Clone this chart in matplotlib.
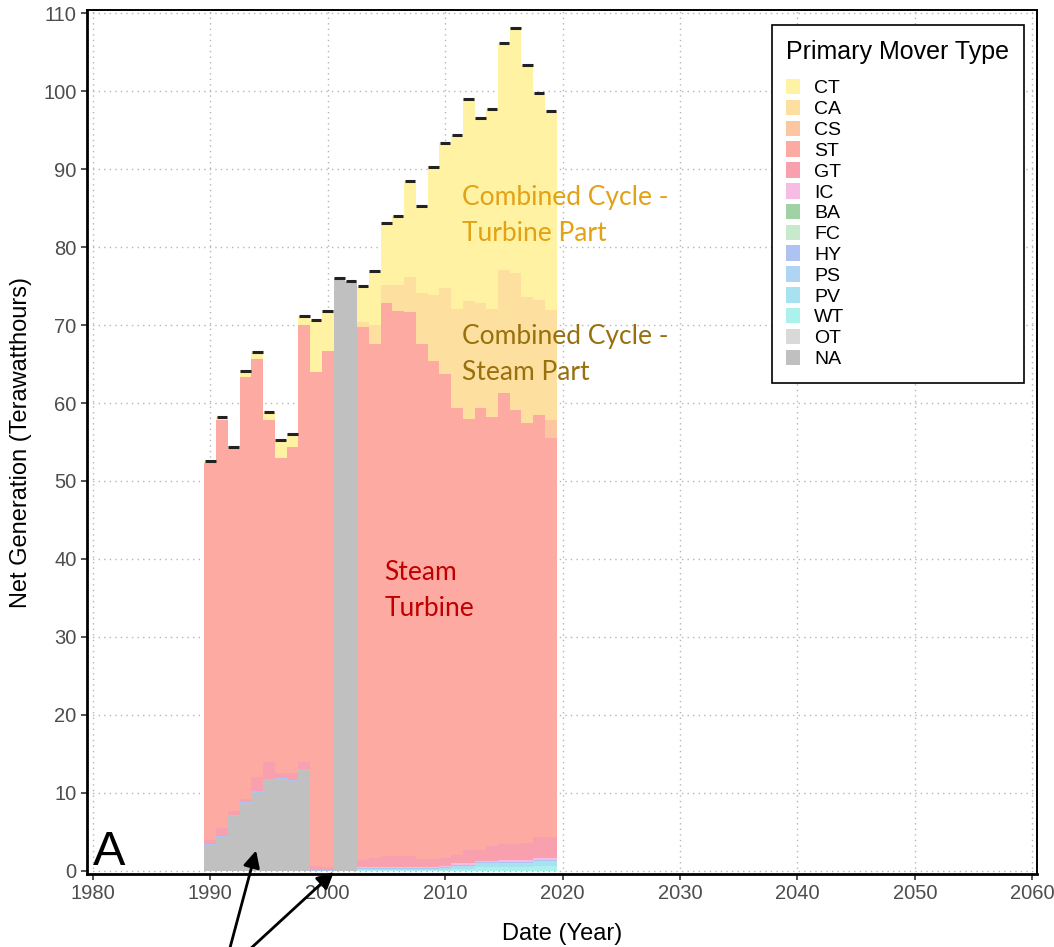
import numpy as np
import matplotlib.pyplot as plt
from matplotlib.patches import Patch

years = np.arange(1990, 2020)

# net generation by primary mover (TWh), 1990..2019
ct = [0.3, 0.4, 0.3, 0.7, 0.8, 1.1, 2.4, 1.7, 1.2, 6.6, 5.1, 0, 0, 4.6, 6.9,
      8.0, 8.9, 12.3, 11.2, 16.4, 18.7, 22.4, 25.9, 23.7, 25.7, 29.1, 31.4, 29.7, 26.6, 25.6]
ca = [0] * 13 + [0.7, 2.4, 2.3, 3.3, 4.5, 6.5, 8.5, 11.0, 12.6, 15.1, 13.4, 13.8,
                 15.8, 17.6, 16.2, 14.7, 14.1]
cs = [0] * 29 + [2.3]
st = [48.3, 52.3, 46.4, 54.2, 53.6, 43.9, 40.4, 41.8, 56.1, 63.35, 66.15, 0, 0,
      68.3, 66.0, 70.9, 69.9, 69.8, 66.1, 63.9, 62.1, 57.4, 55.3, 56.7, 55.0,
      57.8, 55.6, 53.8, 54.2, 51.2]
gt = [0.5, 1.0, 0.5, 0.4, 1.9, 2.1, 0.6, 0.8, 0.8, 0.5, 0.4, 0, 0,
      0.95, 1.1, 1.4, 1.4, 1.4, 1.0, 1.0, 1.0, 1.0, 1.7, 1.4, 1.9, 2.1, 2.1, 2.2, 2.7, 2.7]
ic = [0] * 13 + [0.1] * 8 + [0.2] * 9
ba = [0] * 30
fc = [0] * 30
hy = [0.2] * 9 + [0.15, 0.15, 0, 0] + [0.15] * 17
ps = [0] * 30
pv = [0] * 13 + [0.1, 0.15, 0.15, 0.15, 0.15, 0.15, 0.15, 0.2, 0.35, 0.35, 0.5,
                 0.5, 0.55, 0.55, 0.55, 0.65, 0.65]
wt = [0] * 13 + [0.1, 0.1, 0.1, 0.1, 0.1, 0.1, 0.1, 0.15, 0.3, 0.3, 0.45,
                 0.45, 0.5, 0.5, 0.5, 0.6, 0.6]
ot = [0] * 30
na = [3.3, 4.3, 7.0, 8.6, 10.0, 11.6, 11.7, 11.5, 12.9, 0, 0, 76.0, 75.6] + [0] * 17

labels = ['CT', 'CA', 'CS', 'ST', 'GT', 'IC', 'BA', 'FC', 'HY', 'PS', 'PV', 'WT', 'OT', 'NA']
series = [ct, ca, cs, st, gt, ic, ba, fc, hy, ps, pv, wt, ot, na]
colors = ['#FFF3A3', '#FDDFA0', '#FCC7A0', '#FCAAA2', '#F9A0AE', '#F6BCE4', '#A0D2A6',
          '#C6EACB', '#AFC3F2', '#B0D4F4', '#A8E2F0', '#ABF2EC', '#D9D9D9', '#C0C0C0']

plt.rcParams['font.family'] = ['Liberation Sans', 'DejaVu Sans']

fig = plt.figure(figsize=(10.54, 9.47), dpi=100)
ax = fig.add_axes([0.0825, 0.0771, 0.9014, 0.9123])

# stack from the bottom (NA) up to CT
bottom = np.zeros(len(years))
for lab, vals, col in reversed(list(zip(labels, series, colors))):
    vals = np.array(vals, dtype=float)
    ax.bar(years, vals, width=1.0, bottom=bottom, color=col, linewidth=0, zorder=2)
    bottom += vals

# total caps
ax.hlines(bottom, years - 0.45, years + 0.45, color='#222222', lw=2.2, zorder=3)

ax.set_xlim(1979.5, 2060.4)
ax.set_ylim(-0.4, 110.4)
ax.set_xticks(range(1980, 2061, 10))
ax.set_yticks(range(0, 111, 10))
ax.grid(True, linestyle=(0, (1, 3)), color='#b5b5b5', lw=1, zorder=0)
ax.set_axisbelow(True)
for s in ax.spines.values():
    s.set_color('black')
    s.set_linewidth(1.4)
ax.spines['left'].set_linewidth(2)
ax.spines['bottom'].set_linewidth(2)
ax.tick_params(colors='#333333', labelcolor='#4d4d4d', labelsize=14.5, length=4, width=1.2)
ax.set_xlabel('Date (Year)', fontsize=17, labelpad=14)
ax.set_ylabel('Net Generation (Terawatthours)', fontsize=17, labelpad=8)

handles = [Patch(facecolor=c, edgecolor='none') for c in colors]
leg = ax.legend(handles, labels, title='Primary Mover Type', loc='upper right',
                bbox_to_anchor=(0.9863, 0.9826), borderaxespad=0, fontsize=14,
                title_fontsize=18, frameon=True, fancybox=False, edgecolor='black',
                framealpha=1, labelspacing=0.12, handlelength=0.7, handleheight=0.85,
                handletextpad=0.72, borderpad=0.75, alignment='left')
leg.get_frame().set_linewidth(1.2)
leg._legend_box.sep = 11  # extra gap under the title

ax.text(2011.4, 84.0, 'Combined Cycle -\nTurbine Part', color='#E3A116', fontsize=19,
        family='Lato', va='center', ha='left', linespacing=1.55, zorder=4)
ax.text(2011.4, 66.2, 'Combined Cycle -\nSteam Part', color='#98700E', fontsize=19,
        family='Lato', va='center', ha='left', linespacing=1.55, zorder=4)
ax.text(2004.85, 35.9, 'Steam\nTurbine', color='#C00000', fontsize=19,
        family='Lato', va='center', ha='left', linespacing=1.55, zorder=4)

ax.text(1980.0, 0.8, 'A', fontsize=35, ha='left', va='baseline', zorder=4)

# arrows pointing at the NA blocks
arrow = dict(arrowstyle='-|>', lw=2, color='black', mutation_scale=25)
ax.annotate('', xy=(1993.96, 2.95), xytext=(0.216, -0.01), xycoords='data',
            textcoords='figure fraction', arrowprops=arrow, annotation_clip=False)
ax.annotate('', xy=(2000.7, 0.1), xytext=(0.2296, -0.01), xycoords='data',
            textcoords='figure fraction', arrowprops=arrow, annotation_clip=False)

fig.savefig('out.png', dpi=100)
